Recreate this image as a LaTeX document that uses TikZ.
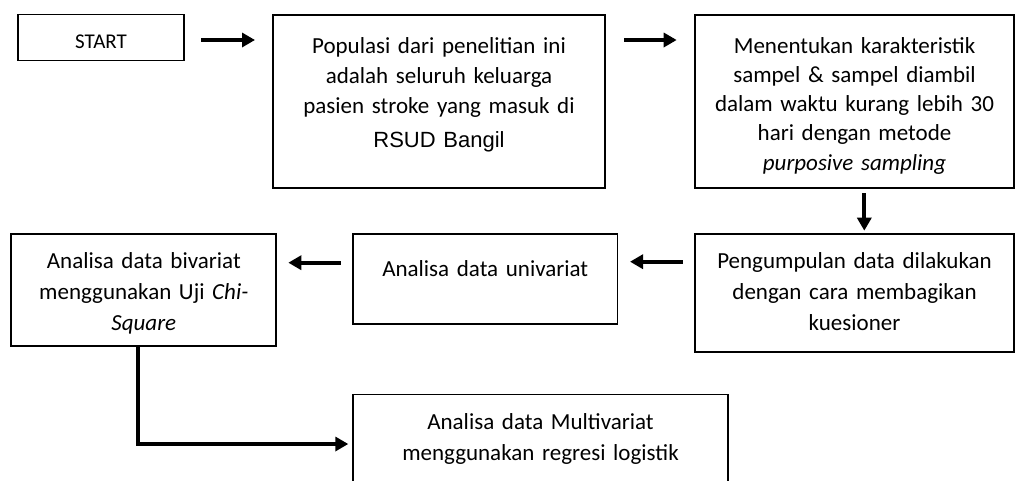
\documentclass[tikz,border=0pt]{standalone}
\usepackage{fontspec}
\setmainfont{Carlito}
\newfontfamily\arialf{Liberation Sans}
\usetikzlibrary{arrows.meta,calc}
\newcommand\myst{\rule{0pt}{20pt}}
\begin{document}
\begin{tikzpicture}[x=1pt,y=-1pt,
  box/.style={draw, line width=1.8pt, inner sep=0pt, outer sep=0pt, anchor=north west},
  txt/.style={inner sep=0pt, outer sep=0pt, align=center, anchor=north, font=\fontsize{23}{30}\selectfont},
  arr/.style={line width=3.8pt, -{Triangle[length=13pt,width=14pt]}}]
\useasboundingbox (0,0) rectangle (1016,480);
% boxes
\node[box, minimum width=166pt, minimum height=46pt] (start) at (18,14.5) {};
\node[box, minimum width=332pt, minimum height=173pt] (b2) at (273,15) {};
\node[box, minimum width=319pt, minimum height=173pt] (b3) at (695,15) {};
\node[box, minimum width=319pt, minimum height=118pt] (b4) at (695,234) {};
\node[box, minimum width=264.5pt, minimum height=90pt] (b5) at (353,234) {};
\node[box, minimum width=265pt, minimum height=112pt] (b6) at (11.3,234) {};
\node[box, minimum width=375pt, minimum height=100pt] (b7) at (353,394.5) {};
% texts
\node[txt, text width=160pt, font=\fontsize{21}{30}\selectfont] (tstart) at ($(start.north)+(0,13.8)$) {\myst START};
\node[txt, text width=325pt] (t2) at ($(b2.north)+(0,18.3)$) {\myst Populasi dari penelitian ini\\ adalah seluruh keluarga\\ pasien stroke yang masuk di\\[3.7pt] {\arialf\fontsize{22}{30}\selectfont RSUD Bangil}};
\node[txt, text width=312pt, font=\fontsize{23}{29.2}\selectfont] (t3) at ($(b3.north)+(0,18.3)$) {\myst Menentukan karakteristik\\ sampel \& sampel diambil\\ dalam waktu kurang lebih 30\\ hari dengan metode\\ \textit{purposive sampling}};
\node[txt, text width=312pt, font=\fontsize{23}{31}\selectfont] (t4) at ($(b4.north)+(0,14)$) {\myst Pengumpulan data dilakukan\\ dengan cara membagikan\\ kuesioner};
\node[txt, text width=258pt] (t5) at ($(b5.north)+(0,22.7)$) {\myst Analisa data univariat};
\node[txt, text width=258pt, font=\fontsize{23}{31}\selectfont] (t6) at ($(b6.north)+(0,14.3)$) {\myst Analisa data bivariat\\ menggunakan Uji \textit{Chi-}\\ \textit{Square}};
\node[txt, text width=368pt, font=\fontsize{23}{31}\selectfont] (t7) at ($(b7.north)+(0,14.8)$) {\myst Analisa data Multivariat\\ menggunakan regresi logistik};
% connectors
\draw[arr] ($(start.east)+(17,2.5)$) -- ($(b2.west |- start.east)+(-18,2.5)$);
\draw[arr] ($(b2.east |- start.east)+(19,2.5)$) -- ($(b3.west |- start.east)+(-18.3,2.5)$);
\draw[arr] ($(b3.south)+(9.8,5.3)$) -- ($(b4.north -| b3.south)+(9.8,-3.3)$);
\draw[arr] ($(b4.north west)+(-12.3,27.7)$) -- ($(b5.north east)+(12.5,27.7)$);
\draw[arr] ($(b5.north west)+(-12.3,28.7)$) -- ($(b6.north east)+(12,28.7)$);
\draw[arr] ($(b6.south)+(-6.1,0)$) |- ($(b7.north west)+(-4.7,49.5)$);
\end{tikzpicture}
\end{document}
